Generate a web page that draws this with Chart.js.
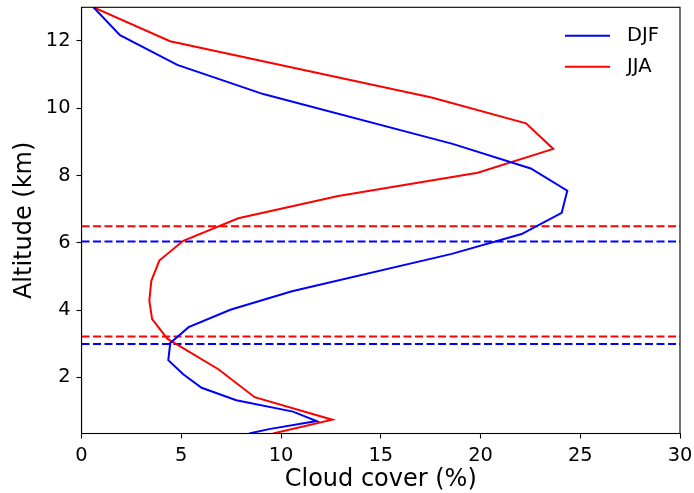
<!DOCTYPE html>
<html>
<head>
<meta charset="utf-8">
<script src="https://cdn.jsdelivr.net/npm/chart.js@4.4.1/dist/chart.umd.min.js"></script>
<style>
  body { margin: 0; background: #fff; }
  canvas { display: block; }
</style>
</head>
<body>
<canvas id="perfil" width="694" height="493"></canvas>
<script>
// perfiles verticales de nubosidad, de arriba hacia abajo
const djfCover = [0.6, 1.93, 4.8, 9.11, 18.6, 22.52, 24.35, 24.07, 22.06, 18.56, 10.55, 7.46, 5.37, 4.45, 4.35, 5.1, 6.02, 7.76, 10.6, 11.79, 9.4, 8.4];
const djfAlt   = [13.0, 12.17, 11.29, 10.42, 8.94, 8.21, 7.55, 6.89, 6.26, 5.67, 4.56, 4.01, 3.49, 3.02, 2.51, 2.09, 1.69, 1.32, 0.98, 0.70, 0.46, 0.33];

const jjaCover = [0.6, 4.44, 17.55, 22.28, 23.65, 19.86, 12.87, 7.86, 5.1, 3.9, 3.5, 3.4, 3.54, 4.3, 6.86, 8.68, 12.57, 9.6];
const jjaAlt   = [13.0, 11.99, 10.32, 9.55, 8.79, 8.08, 7.39, 6.73, 6.06, 5.47, 4.87, 4.28, 3.73, 3.15, 2.24, 1.41, 0.74, 0.33];

// niveles marcados con linea discontinua
const djfNiveles = [2.99, 6.04];
const jjaNiveles = [3.21, 6.49];

const xTicks = [0, 5, 10, 15, 20, 25, 30];
const yTicks = [2, 4, 6, 8, 10, 12];

const AZUL = '#0000ff';
const ROJO = '#ff0000';
const FUENTE = '"DejaVu Sans", sans-serif';

function puntos(xs, ys) {
  return xs.map((x, i) => ({ x: x, y: ys[i] }));
}

function nivel(y, color) {
  return {
    label: '',
    data: [{ x: 0, y: y }, { x: 30, y: y }],
    borderColor: color,
    borderWidth: 2,
    borderDash: [8, 3.5],
    pointRadius: 0,
    showLine: true,
    enLeyenda: false
  };
}

// sin margen extra por las etiquetas de los extremos
function sinPadding(s) {
  s.paddingTop = 0;
  s.paddingBottom = 0;
  s.paddingLeft = 0;
  s.paddingRight = 0;
}

// marco completo alrededor del area de dibujo
const marco = {
  id: 'marco',
  afterDatasetsDraw(chart) {
    const { ctx, chartArea: a } = chart;
    ctx.save();
    ctx.strokeStyle = '#000';
    ctx.lineWidth = 1.1;
    ctx.strokeRect(a.left, a.top, a.right - a.left, a.bottom - a.top);
    ctx.restore();
  }
};

// leyenda sin borde en la esquina superior derecha
const leyenda = {
  id: 'leyenda',
  afterDraw(chart) {
    const ctx = chart.ctx;
    const items = chart.data.datasets.filter(d => d.enLeyenda !== false);
    ctx.save();
    ctx.font = '19.5px ' + FUENTE;
    ctx.textBaseline = 'middle';
    ctx.textAlign = 'left';
    items.forEach((d, i) => {
      const y = 35.7 + i * 31;
      ctx.strokeStyle = d.borderColor;
      ctx.lineWidth = 2;
      ctx.beginPath();
      ctx.moveTo(565, y);
      ctx.lineTo(610, y);
      ctx.stroke();
      ctx.fillStyle = '#000';
      ctx.fillText(d.label, 627, y);
    });
    ctx.restore();
  }
};

new Chart(document.getElementById('perfil'), {
  type: 'scatter',
  data: {
    datasets: [
      {
        label: 'DJF',
        data: puntos(djfCover, djfAlt),
        borderColor: AZUL,
        backgroundColor: AZUL,
        borderWidth: 2,
        pointRadius: 0,
        showLine: true
      },
      {
        label: 'JJA',
        data: puntos(jjaCover, jjaAlt),
        borderColor: ROJO,
        backgroundColor: ROJO,
        borderWidth: 2,
        pointRadius: 0,
        showLine: true
      },
      ...jjaNiveles.map(y => nivel(y, ROJO)),
      ...djfNiveles.map(y => nivel(y, AZUL))
    ]
  },
  options: {
    responsive: false,
    animation: false,
    layout: { padding: { top: 7.3, right: 14, left: 0, bottom: 0 } },
    plugins: {
      legend: { display: false },
      tooltip: { enabled: false }
    },
    scales: {
      x: {
        type: 'linear',
        min: 0,
        max: 30,
        afterBuildTicks: s => { s.ticks = xTicks.map(v => ({ value: v })); },
        afterFit: s => { s.height = 59.5; sinPadding(s); },
        grid: { drawOnChartArea: false, tickLength: 5, color: '#000', tickWidth: 1.1 },
        border: { color: '#000', width: 1.1 },
        ticks: { color: '#000', padding: 5.5, maxRotation: 0, font: { family: FUENTE, size: 19.4 } },
        title: {
          display: true,
          text: 'Cloud cover (%)',
          color: '#000',
          padding: { top: 0, bottom: 1 },
          font: { family: FUENTE, size: 24, lineHeight: 1 }
        }
      },
      y: {
        type: 'linear',
        min: 0.33,
        max: 13,
        afterBuildTicks: s => { s.ticks = yTicks.map(v => ({ value: v })); },
        afterFit: s => { s.width = 81.5; sinPadding(s); },
        grid: { drawOnChartArea: false, tickLength: 5, color: '#000', tickWidth: 1.1 },
        border: { color: '#000', width: 1.1 },
        ticks: { color: '#000', padding: 6, font: { family: FUENTE, size: 19.4 } },
        title: {
          display: true,
          text: 'Altitude (km)',
          color: '#000',
          padding: { top: 12.5, bottom: 0 },
          font: { family: FUENTE, size: 24, lineHeight: 1 }
        }
      }
    }
  },
  plugins: [marco, leyenda]
});
</script>
</body>
</html>
